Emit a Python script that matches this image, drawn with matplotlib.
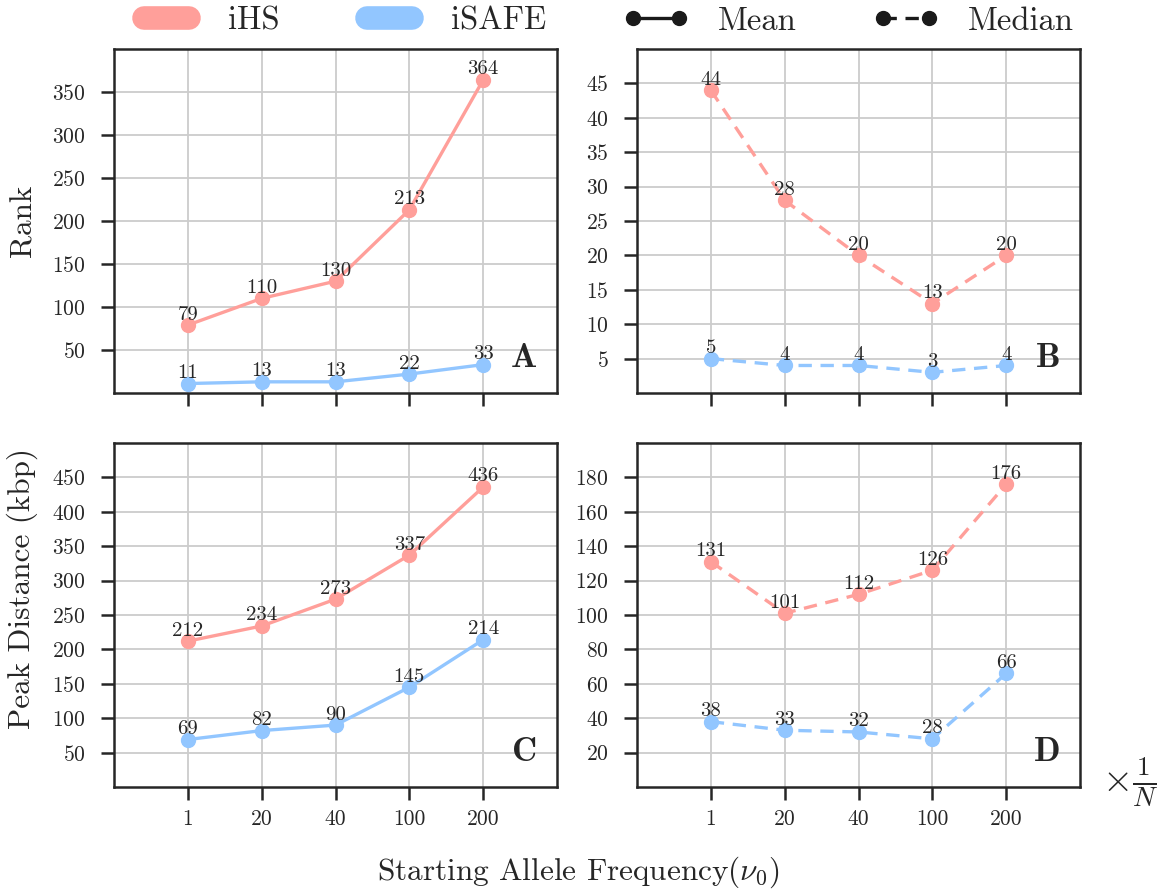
import numpy as np
import matplotlib
matplotlib.use("Agg")
import matplotlib.pyplot as plt
from matplotlib.lines import Line2D

plt.rcParams["font.family"] = "cmr10"
plt.rcParams["mathtext.fontset"] = "cm"
plt.rcParams["axes.unicode_minus"] = False
plt.rcParams["axes.formatter.use_mathtext"] = True

freqs = ["1", "20", "40", "100", "200"]

rank_mean_ihs = [79, 110, 130, 213, 364]
rank_mean_isafe = [11, 13, 13, 22, 33]
rank_median_ihs = [44, 28, 20, 13, 20]
rank_median_isafe = [5, 4, 4, 3, 4]

dist_mean_ihs = [212, 234, 273, 337, 436]
dist_mean_isafe = [69, 82, 90, 145, 214]
dist_median_ihs = [131, 101, 112, 126, 176]
dist_median_isafe = [38, 33, 32, 28, 66]

c_ihs = "#FF9F9A"
c_isafe = "#92C6FF"
edge = "#262626"

W, H = 1164, 891
fig = plt.figure(figsize=(W / 100, H / 100), dpi=100)

aw, ah = 443 / W, 344 / H
lefts = [114 / W, 637 / W]
bottoms = [(H - 393) / H, (H - 787) / H]

panels = [
    (0, 0, rank_mean_ihs, rank_mean_isafe, "-", (0, 400), np.arange(50, 351, 50), "A"),
    (0, 1, rank_median_ihs, rank_median_isafe, "--", (0, 50), np.arange(5, 46, 5), "B"),
    (1, 0, dist_mean_ihs, dist_mean_isafe, "-", (0, 500), np.arange(50, 451, 50), "C"),
    (1, 1, dist_median_ihs, dist_median_isafe, "--", (0, 200), np.arange(20, 181, 20), "D"),
]

x = np.arange(len(freqs))
axes = {}
for row, col, ihs, isafe, ls, ylim, yt, letter in panels:
    ax = fig.add_axes([lefts[col], bottoms[row], aw, ah])
    axes[letter] = ax
    ax.grid(True, color="#cccccc", lw=1.3)
    ax.set_axisbelow(True)
    for vals, c in ((ihs, c_ihs), (isafe, c_isafe)):
        line, = ax.plot(x, vals, ls=ls, color=c, lw=2.4, marker="o", ms=10,
                        zorder=3)
        if ls == "--":
            line.set_dashes((4, 2.6))
        # value printed just above each marker
        for xi, v in zip(x, vals):
            ax.annotate(str(v), (xi, v), xytext=(0, 4), textcoords="offset points",
                        ha="center", va="baseline", fontsize=15, color="#262626",
                        zorder=4)
    ax.set_xlim(-1, 5)
    ax.set_ylim(*ylim)
    ax.set_yticks(yt)
    ax.set_xticks(x)
    if row == 1:
        ax.set_xticklabels(freqs)
    else:
        ax.set_xticklabels([])
    for s in ax.spines.values():
        s.set_color(edge)
        s.set_linewidth(1.8)
    ax.tick_params(direction="out", length=9.5, width=1.8, color=edge,
                   labelsize=15.5, labelcolor="#262626", pad=7)
    ax.tick_params(axis="y", pad=11)
    ax.text(0.955, 0.1, letter, transform=ax.transAxes, ha="right", va="center",
            fontsize=25, family="cmb10", color="#262626")

axes["A"].set_ylabel("Rank", fontsize=22.5, color="#262626")
axes["A"].yaxis.set_label_coords(-0.172, 0.5)
axes["C"].set_ylabel("Peak Distance (kbp)", fontsize=22.5, color="#262626")
axes["C"].yaxis.set_label_coords(-0.172, 0.577)

fig.text(578 / W, 1 - 872 / H, r"Starting Allele Frequency$(\nu_0)$",
         ha="center", va="center", fontsize=22.5, color="#262626")
fig.text(1130 / W, 1 - 782 / H, r"$\times\frac{1}{N}$", ha="center",
         va="center", fontsize=28, color="#262626")

handles = [
    Line2D([], [], color=c_ihs, lw=17, solid_capstyle="round"),
    Line2D([], [], color=c_isafe, lw=17, solid_capstyle="round"),
    Line2D([], [], color="#1a1a1a", lw=2.4, ls="-", marker="o", ms=10),
    Line2D([], [], color="#1a1a1a", lw=2.4, ls=(0, (4, 2.6)), marker="o", ms=10),
]
fig.legend(handles, ["iHS", "iSAFE", "Mean", "Median"], loc="center",
           bbox_to_anchor=(604 / W, 1 - 21 / H), ncol=4, frameon=False,
           fontsize=23.5, numpoints=2, handlelength=2.0, handletextpad=0.9,
           columnspacing=2.35, labelcolor="#262626")

fig.savefig("out.png", dpi=100)
